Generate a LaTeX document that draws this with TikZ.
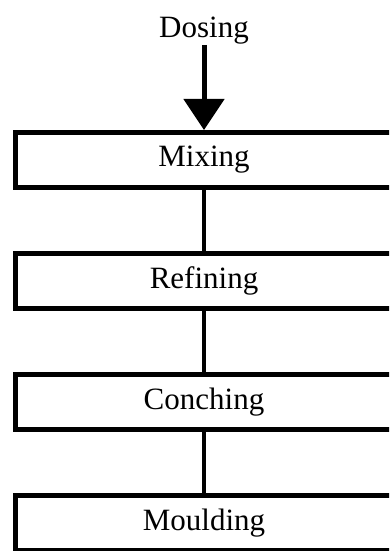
\documentclass[tikz,border=0pt]{standalone}
\usepackage{fontspec}
\setmainfont{Liberation Serif}
\usepackage{tikz}
\usetikzlibrary{arrows.meta}

\begin{document}
\begin{tikzpicture}[x=1pt, y=1pt,
    stagebox/.style={rectangle, draw=black, line width=5pt, fill=white,
        minimum width=377pt, minimum height=55pt, inner sep=0pt,
        font=\fontsize{31}{31}\selectfont},
    every node/.style={inner sep=0pt}]
            \useasboundingbox (0,0) rectangle (389,551);
            \clip (0,0) rectangle (389,551);
            \node[anchor=base, font=\fontsize{31}{31}\selectfont] (dose) at (204, 513) {Dosing};
            \foreach \name/\txt [count=\i] in {mix/Mixing, ref/Refining, con/Conching, mou/Moulding} {
                \pgfmathsetmacro{\y}{391 - (\i - 1)*121}
                \node[stagebox] (\name) at (204, \y) {\txt};
            }
            \draw [line width=5pt, -{Triangle[length=31pt, width=40pt]}] (dose.south) -- (mix.north);
            \draw [line width=4pt] (mix) -- (ref);
            \draw [line width=4pt] (ref) -- (con);
            \draw [line width=4pt] (con) -- (mou);

        \end{tikzpicture}
\end{document}
